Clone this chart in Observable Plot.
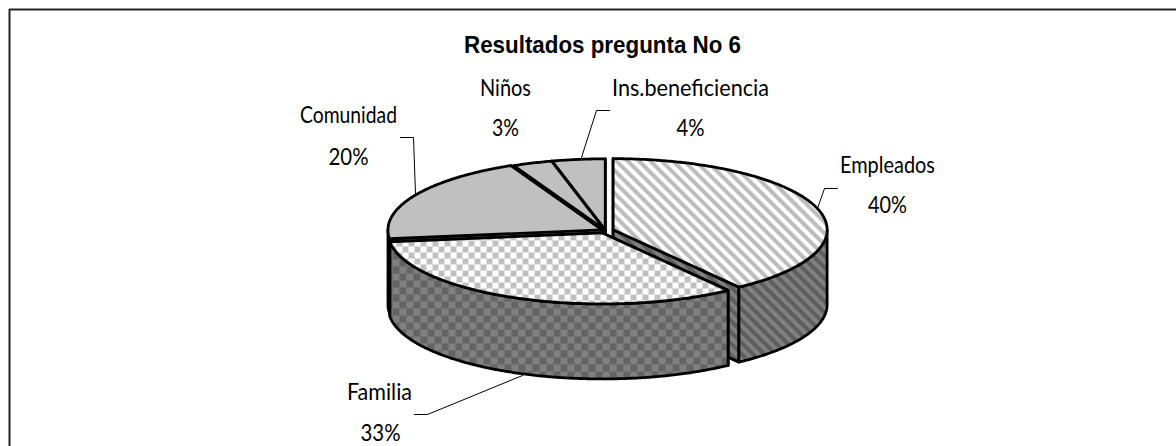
<!DOCTYPE html>
<html><head><meta charset="utf-8">
<script src="https://cdn.jsdelivr.net/npm/d3@7"></script>
<script src="https://cdn.jsdelivr.net/npm/@observablehq/plot@0.6"></script>
<style>html,body{margin:0;background:#fff}svg{display:block}</style>
</head><body><div id="chart"></div>
<script>
const categories = ["Empleados","Familia","Comunidad","Niños","Ins.beneficiencia"];
const percents = [40,33,20,3,4];
const chartTitle = "Resultados pregunta No 6";

const W=1176,H=446;
// pie geometry
const cx=605, cy=230, rx=214, ry=71, depth=75, aspect=ry/rx;
const pull=[8,8,4,2,2];
const styles=[
 {top:"url(#stripeTop)",side:"url(#stripeSide)",face:"url(#stripeSide)"},
 {top:"url(#checkTop)",side:"url(#checkSide)",face:"#808080"},
 {top:"#c0c0c0",side:"#808080",face:"#808080"},
 {top:"#c0c0c0",side:"#808080",face:"#808080"},
 {top:"#c0c0c0",side:"#808080",face:"#808080"}
];
const TAU=Math.PI*2;
let acc=0;
const slices=percents.map((p,i)=>{
  const a0=acc/100*TAU; acc+=p; const a1=acc/100*TAU; const m=(a0+a1)/2;
  return {i,a0,a1,ox:cx+pull[i]*Math.sin(m),oy:cy-pull[i]*aspect*Math.cos(m)};
});
const pt=(s,a,dz=0)=>({x:s.ox+rx*Math.sin(a),y:s.oy-ry*Math.cos(a)+dz});
const arc=(s,a0,a1,dz=0)=>{const n=Math.max(2,Math.ceil(Math.abs(a1-a0)/0.01));
  return d3.range(n+1).map(k=>pt(s,a0+(a1-a0)*k/n,dz));};
const apex=(s,dz=0)=>({x:s.ox,y:s.oy+dz});
const close=p=>[...p,p[0]];
const poly=(pts,fill,sw=2.8)=>Plot.line(pts,{x:"x",y:"y",fill,stroke:"#000",strokeWidth:sw,strokeLinejoin:"round",curve:"linear"});

function sliceMarks(s){
  const st=styles[s.i], out=[];
  for(const a of [s.a0,s.a1]) out.push(poly(close([apex(s),pt(s,a),pt(s,a,depth),apex(s,depth)]),st.face));
  const lo=Math.max(s.a0,Math.PI/2), hi=Math.min(s.a1,Math.PI*1.5);
  if(hi>lo) out.push(poly(close([...arc(s,lo,hi),...arc(s,hi,lo,depth)]),st.side));
  out.push(poly(close([apex(s),...arc(s,s.a0,s.a1)]),st.top));
  return out;
}
const order=[4,3,2,0,1];

const defs=()=>{
  const d=d3.create("svg:defs");
  d.html(`
  <pattern id="stripeTop" width="8" height="8" patternUnits="userSpaceOnUse" patternTransform="rotate(-45)">
    <rect width="8" height="8" fill="#fff"/><rect width="4" height="8" fill="#bdbdbd"/></pattern>
  <pattern id="stripeSide" width="8" height="8" patternUnits="userSpaceOnUse" patternTransform="rotate(-45)">
    <rect width="8" height="8" fill="#808080"/><rect width="4" height="8" fill="#5e5e5e"/></pattern>
  <pattern id="checkTop" width="12" height="12" patternUnits="userSpaceOnUse">
    <rect width="12" height="12" fill="#fff"/><rect width="6" height="6" fill="#c0c0c0"/><rect x="6" y="6" width="6" height="6" fill="#c0c0c0"/></pattern>
  <pattern id="checkSide" width="14" height="14" patternUnits="userSpaceOnUse">
    <rect width="14" height="14" fill="#808080"/><rect width="7" height="7" fill="#646464"/><rect x="7" y="7" width="7" height="7" fill="#646464"/></pattern>`);
  return d.node();
};

// label layout (text centres and ink widths)
const labelPos=[{x:887,y:165,w:95},{x:379,y:392,w:65},{x:348,y:115,w:97},{x:505,y:88,w:51},{x:690,y:88,w:157}];
const pctPos=[{x:887,y:205,w:39},{x:380,y:433,w:40},{x:348,y:157,w:40},{x:505,y:128,w:27},{x:690,y:128,w:28}];
const leaders=[
 [{x:837,y:188},{x:824,y:188},{x:817,y:208}],
 [{x:414,y:414},{x:427,y:414},{x:522,y:375}],
 [{x:400,y:137},{x:413,y:137},{x:415,y:193}],
 [{x:609,y:110},{x:596,y:110},{x:581,y:157}]
];
const labels=categories.map((c,i)=>({text:c,...labelPos[i]}));
const pcts=percents.map((p,i)=>({text:p+"%",...pctPos[i]}));
const titleRow=[{text:chartTitle,x:602,y:44.5,w:277}];
const frame=[{x:W,y:9},{x:9,y:9},{x:9,y:H}];
const comic='"Comic Sans MS","Lato",sans-serif';

// squeeze text horizontally to the reference's narrow lettering
const fit=(rows)=>(index,scales,values,dims,ctx,next)=>{
  const g=next(index,scales,values,dims,ctx);
  d3.select(g).selectAll("text").each(function(_,k){
    this.setAttribute("textLength",rows[index[k]].w);
    this.setAttribute("lengthAdjust","spacingAndGlyphs");
  });
  return g;
};
const textMark=(rows,o)=>Plot.text(rows,{x:"x",y:"y",text:"text",fill:"#000",lineAnchor:"middle",render:fit(rows),...o});

const plot=Plot.plot({
  width:W,height:H,margin:0,
  x:{axis:null,domain:[0,W],range:[0,W]},
  y:{axis:null,domain:[0,H],range:[0,H]},
  marks:[
    defs,
    Plot.line(frame,{x:"x",y:"y",stroke:"#222",strokeWidth:2}),
    ...leaders.map(l=>Plot.line(l,{x:"x",y:"y",stroke:"#000",strokeWidth:1})),
    ...order.flatMap(i=>sliceMarks(slices[i])),
    textMark(titleRow,{fontFamily:'"Liberation Sans",Arial,sans-serif',fontWeight:"bold",fontSize:24}),
    textMark(labels,{fontFamily:comic,fontSize:24}),
    textMark(pcts,{fontFamily:comic,fontSize:24})
  ]
});
document.getElementById("chart").append(plot);
</script></body></html>
